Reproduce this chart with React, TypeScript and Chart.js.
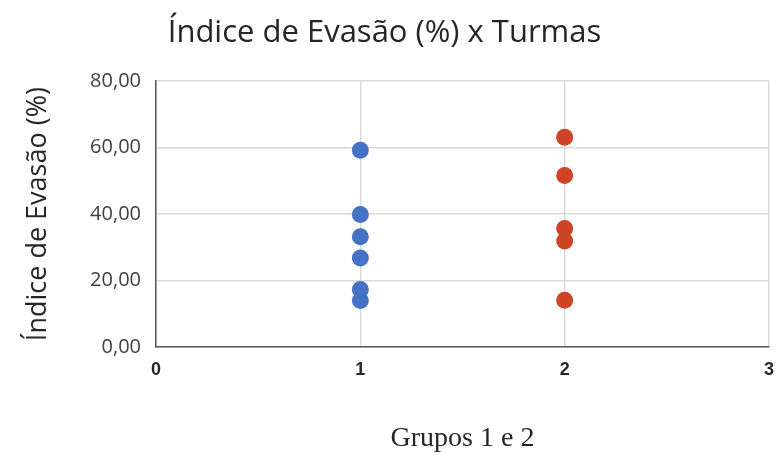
import React, { useEffect, useRef } from "react";
import { Chart, registerables } from "chart.js";

Chart.register(...registerables);

const chartTitle = "Índice de Evasão (%) x Turmas";
const yAxisTitle = "Índice de Evasão (%)";
const xAxisTitle = "Grupos 1 e 2";

const group1X = [1, 1, 1, 1, 1, 1];
const group1Y = [59.2, 39.9, 33.2, 26.8, 17.3, 14.0];
const group2X = [2, 2, 2, 2, 2];
const group2Y = [63.1, 51.6, 35.7, 31.9, 14.1];

const xMin = 0;
const xMax = 3;
const yMin = 0;
const yMax = 80;
const yStep = 20;

const toPoints = (xs: number[], ys: number[]) => xs.map((x, i) => ({ x, y: ys[i] }));

export default function App() {
  const ref = useRef<HTMLCanvasElement | null>(null);

  useEffect(() => {
    if (!ref.current) return;
    const chart = new Chart(ref.current, {
      type: "scatter",
      data: {
        datasets: [
          {
            label: "Grupo 1",
            data: toPoints(group1X, group1Y),
            backgroundColor: "#4472C4",
            borderColor: "#4472C4",
            borderWidth: 0,
            pointRadius: 8.5,
          },
          {
            label: "Grupo 2",
            data: toPoints(group2X, group2Y),
            backgroundColor: "#CE4425",
            borderColor: "#CE4425",
            borderWidth: 0,
            pointRadius: 8.5,
          },
        ],
      },
      options: {
        responsive: false,
        animation: false,
        layout: { autoPadding: false, padding: { left: 0, right: 7, top: 0, bottom: 0 } },
        plugins: {
          legend: { display: false },
          tooltip: { enabled: false },
          title: {
            display: true,
            text: chartTitle,
            color: "#262626",
            font: { family: "Open Sans", size: 31, weight: "normal" },
            padding: { top: 15, bottom: 29 },
          },
        },
        scales: {
          x: {
            type: "linear",
            min: xMin,
            max: xMax,
            ticks: {
              stepSize: 1,
              color: "#262626",
              font: { family: "Liberation Sans", size: 18, weight: "bold" },
              padding: 12,
            },
            grid: { color: "#D9D9D9", lineWidth: 1.5, drawTicks: false },
            border: { color: "#595959", width: 1.5 },
            title: {
              display: true,
              text: xAxisTitle,
              color: "#262626",
              font: { family: "Liberation Serif", size: 28 },
              padding: { top: 0, bottom: 0 },
            },
            afterFit: (scale: any) => {
              scale.height = 108;
              scale.paddingLeft = 0;
              scale.paddingRight = 0;
            },
          },
          y: {
            type: "linear",
            min: yMin,
            max: yMax,
            ticks: {
              stepSize: yStep,
              color: "#404040",
              font: { family: "Open Sans", size: 20 },
              padding: 15,
              callback: (v: any) => Number(v).toFixed(2).replace(".", ","),
            },
            grid: { color: "#D9D9D9", lineWidth: 1.5, drawTicks: false },
            border: { color: "#595959", width: 1.5 },
            title: {
              display: true,
              text: yAxisTitle,
              color: "#262626",
              font: { family: "Open Sans", size: 27 },
              padding: { top: 22, bottom: 0 },
            },
            afterFit: (scale: any) => {
              scale.width = 156;
              scale.paddingTop = 0;
              scale.paddingBottom = 0;
            },
          },
        },
      },
    });
    return () => chart.destroy();
  }, []);

  return (
    <div style={{ position: "absolute", left: 0, top: 0, width: 776, height: 455, background: "#fff" }}>
      <canvas ref={ref} width={776} height={455} />
    </div>
  );
}
